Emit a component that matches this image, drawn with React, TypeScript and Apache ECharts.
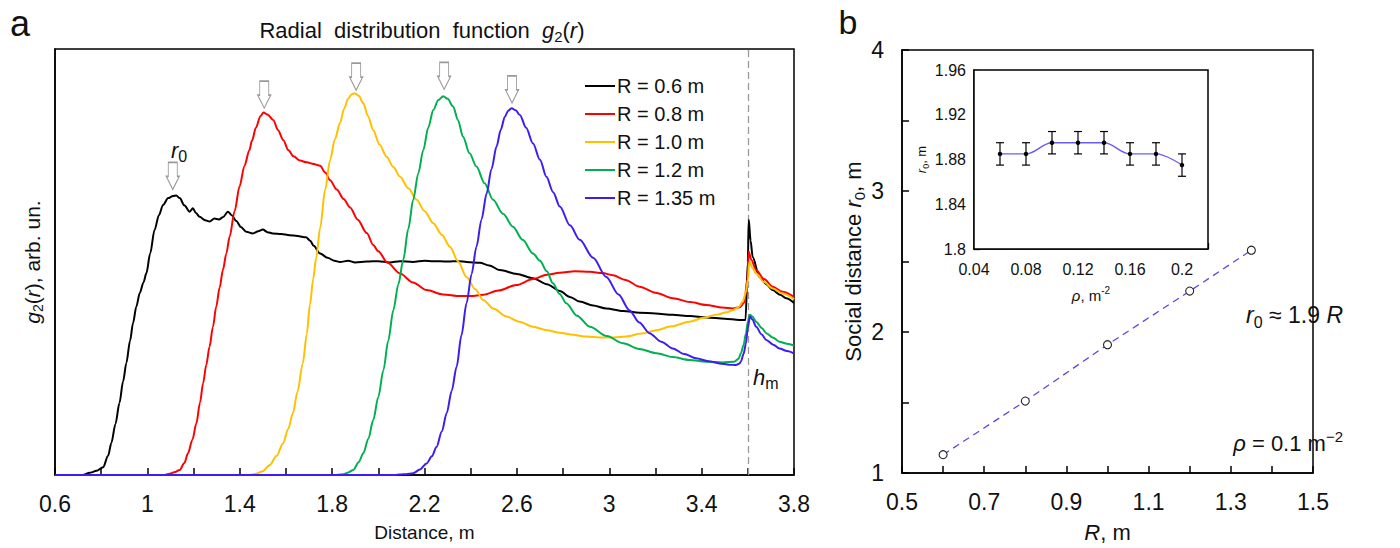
import React, { useEffect, useRef } from 'react';
import * as echarts from 'echarts';

const FONT = '"Liberation Sans", Arial, Helvetica, sans-serif';
const NARROW = '"Liberation Sans Narrow", "Arial Narrow", "Liberation Sans", Arial, sans-serif';

// ---- Panel a: radial distribution function g2(r) ----
const seriesNames = ['R = 0.6 m', 'R = 0.8 m', 'R = 1.0 m', 'R = 1.2 m', 'R = 1.35 m'];
const seriesColors = ['#000000', '#ff0000', '#ffc000', '#00b050', '#3d1df0'];

const g2R06: number[][] = [
  [0.6, 0], [0.72, 0], [0.75, 0.5], [0.78, 1.0], [0.808, 1.8], [0.83, 4.5], [0.844, 7.5], [0.862, 12], [0.879, 16.9],
  [0.895, 22], [0.909, 26.3], [0.925, 31.5], [0.938, 35.7], [0.952, 39.5], [0.967, 42.7], [0.983, 45.2], [0.996, 47.4],
  [1.012, 52], [1.031, 57.5], [1.05, 61], [1.068, 63.4], [1.09, 65], [1.111, 65.5], [1.125, 65.6], [1.14, 65],
  [1.16, 63.3], [1.183, 61.8], [1.197, 62.6], [1.21, 61.5], [1.226, 60.6], [1.25, 59.8], [1.27, 59.5], [1.29, 60.2],
  [1.31, 60], [1.327, 60.5], [1.349, 61.8], [1.365, 61], [1.385, 59.6], [1.405, 58.2], [1.428, 57.1], [1.457, 56.7],
  [1.48, 57.2], [1.5, 57.6], [1.52, 57], [1.543, 56.7], [1.58, 56.6], [1.615, 56.3], [1.65, 56.1], [1.687, 55.8],
  [1.705, 55], [1.72, 53.8], [1.748, 52], [1.78, 51], [1.81, 50.3], [1.834, 50], [1.87, 50.3], [1.9, 49.9],
  [1.95, 50.1], [2.0, 50.2], [2.05, 49.9], [2.094, 50.2], [2.15, 50], [2.2, 50.3], [2.237, 50.2], [2.3, 50.1],
  [2.35, 50.2], [2.382, 50], [2.44, 49.8], [2.48, 49.2], [2.526, 48.1], [2.6, 47.2], [2.669, 46.2], [2.73, 44.8],
  [2.786, 43.2], [2.83, 41.8], [2.872, 40.7], [2.93, 39.8], [2.987, 39.1], [3.06, 38.5], [3.131, 38.1], [3.2, 37.9],
  [3.274, 37.6], [3.35, 37.3], [3.42, 37], [3.5, 36.7], [3.563, 36.4], [3.59, 36.4], [3.6, 50], [3.604, 59.9],
  [3.612, 55], [3.621, 51.2], [3.65, 46.5], [3.68, 44.8], [3.708, 43.4], [3.74, 42.3], [3.766, 41.5], [3.8, 40.4],
];

const g2R08: number[][] = [
  [0.6, 0], [1.07, 0], [1.096, 0.3], [1.12, 0.7], [1.14, 1.2], [1.16, 2.8], [1.176, 5.1], [1.195, 8.3], [1.212, 12.1],
  [1.228, 17], [1.241, 21.5], [1.255, 25.8], [1.269, 30.1], [1.284, 34.8], [1.298, 39.5], [1.313, 44], [1.327, 48.1],
  [1.342, 52], [1.356, 55.9], [1.378, 62], [1.399, 67.7], [1.42, 72.5], [1.442, 76.3], [1.453, 78.5], [1.47, 81.5],
  [1.49, 84.3], [1.503, 85.1], [1.52, 84.6], [1.546, 83.3], [1.565, 81], [1.589, 78.6], [1.61, 76.3], [1.633, 74.8],
  [1.661, 73.8], [1.69, 73.4], [1.72, 73], [1.748, 72.6], [1.77, 71], [1.791, 69.2], [1.82, 67], [1.85, 64.8],
  [1.878, 62.8], [1.91, 60], [1.95, 56.8], [1.978, 54], [2.0, 52.5], [2.04, 49.8], [2.094, 47.3], [2.15, 45.2],
  [2.209, 43.4], [2.28, 42.4], [2.353, 42], [2.4, 42], [2.454, 42.3], [2.52, 43.3], [2.598, 44.6], [2.67, 46],
  [2.73, 47], [2.786, 47.5], [2.85, 47.8], [2.916, 47.7], [2.97, 47.4], [3.016, 46.9], [3.07, 45.8], [3.131, 44.2],
  [3.2, 42.8], [3.275, 41.5], [3.35, 40.6], [3.42, 39.9], [3.49, 39.3], [3.535, 39.1], [3.565, 39.4], [3.585, 40.5],
  [3.598, 46], [3.604, 52.4], [3.615, 50.5], [3.636, 48.1], [3.67, 46], [3.708, 44.2], [3.75, 43], [3.8, 41.8],
];

const g2R10: number[][] = [
  [0.6, 0], [1.44, 0], [1.471, 0.3], [1.5, 0.9], [1.529, 2.3], [1.56, 4.5], [1.587, 7.4], [1.61, 10.8], [1.63, 14.5],
  [1.65, 19.5], [1.673, 26.2], [1.69, 33], [1.704, 40], [1.718, 46], [1.731, 51], [1.748, 58], [1.77, 67],
  [1.791, 73.9], [1.812, 78.8], [1.834, 82.6], [1.852, 86], [1.87, 88.4], [1.885, 89.4], [1.899, 89.6], [1.915, 89],
  [1.935, 87.3], [1.955, 84.3], [1.978, 81], [2.005, 77.6], [2.036, 74.7], [2.065, 72.3], [2.094, 70], [2.13, 67.3],
  [2.166, 64.6], [2.2, 62], [2.238, 59.1], [2.275, 56.4], [2.31, 53.6], [2.345, 50.2], [2.382, 46.5], [2.42, 43.6],
  [2.454, 41.1], [2.5, 39], [2.555, 37.2], [2.61, 36], [2.67, 34.8], [2.73, 34], [2.786, 33.4], [2.843, 32.9],
  [2.9, 32.5], [2.958, 32.3], [3.02, 32.3], [3.074, 32.5], [3.14, 33.2], [3.204, 34], [3.27, 34.9], [3.347, 36],
  [3.41, 36.9], [3.463, 37.6], [3.51, 38.2], [3.535, 38.7], [3.56, 39.4], [3.578, 40.7], [3.592, 43], [3.6, 45.8],
  [3.607, 50.1], [3.62, 48.6], [3.636, 47.3], [3.67, 45.3], [3.708, 43.8], [3.75, 42.6], [3.8, 41.3],
];

const g2R12: number[][] = [
  [0.6, 0], [1.82, 0], [1.849, 0.2], [1.87, 0.6], [1.892, 1.2], [1.915, 3], [1.935, 5.1], [1.957, 8.5], [1.978, 12.9],
  [2.0, 18.3], [2.022, 24.6], [2.043, 31.5], [2.065, 38.7], [2.087, 44.8], [2.108, 50.5], [2.13, 57.8], [2.151, 64.6],
  [2.173, 70.8], [2.195, 76.3], [2.216, 81.5], [2.238, 85.7], [2.26, 88], [2.281, 88.9], [2.3, 88.3], [2.324, 86.5],
  [2.345, 83.3], [2.367, 79.4], [2.395, 75.5], [2.425, 72.4], [2.46, 68.5], [2.497, 64.6], [2.54, 61.3], [2.583, 58.3],
  [2.625, 55.2], [2.67, 52], [2.7, 50.3], [2.73, 47.8], [2.756, 45], [2.785, 42.5], [2.814, 40.3], [2.86, 37.4],
  [2.916, 34.8], [2.99, 32.6], [3.06, 30.9], [3.13, 29.6], [3.204, 28.6], [3.275, 27.7], [3.347, 27], [3.42, 26.6],
  [3.491, 26.4], [3.541, 26.6], [3.56, 27.3], [3.57, 28.6], [3.582, 30.6], [3.592, 33.3], [3.6, 36], [3.609, 37.6],
  [3.62, 37.2], [3.636, 36], [3.66, 34.5], [3.68, 33.3], [3.71, 32.2], [3.737, 31.3], [3.77, 30.8], [3.8, 30.4],
];

const g2R135: number[][] = [
  [0.6, 0], [2.07, 0], [2.094, 0.1], [2.12, 0.2], [2.151, 0.4], [2.18, 1.3], [2.209, 2.7], [2.232, 4.4], [2.252, 6.6],
  [2.275, 10.2], [2.296, 14.5], [2.318, 19.8], [2.339, 25.4], [2.36, 32.8], [2.382, 40.3], [2.404, 47.2], [2.425, 53.6],
  [2.447, 60], [2.469, 66.1], [2.49, 71.8], [2.512, 77.1], [2.53, 81], [2.548, 84.1], [2.562, 85.5], [2.577, 86.1],
  [2.595, 85.6], [2.613, 84.5], [2.64, 81.5], [2.67, 77.8], [2.7, 74], [2.728, 70], [2.757, 66.4], [2.786, 63],
  [2.83, 58.6], [2.872, 55.2], [2.93, 51], [2.987, 46.5], [3.04, 42.4], [3.087, 38.7], [3.13, 35.8], [3.174, 33.3],
  [3.225, 31.3], [3.275, 29.7], [3.325, 28.4], [3.376, 27.4], [3.43, 26.7], [3.477, 26.2], [3.52, 25.9], [3.549, 25.8],
  [3.562, 26.1], [3.57, 26.6], [3.582, 28.5], [3.592, 30.9], [3.6, 34.5], [3.609, 37.2], [3.62, 36.5], [3.636, 34.8],
  [3.66, 33], [3.68, 31.7], [3.71, 30.6], [3.737, 29.7], [3.77, 29.1], [3.8, 28.5],
];

const g2Curves = [g2R06, g2R08, g2R10, g2R12, g2R135];
const peakArrowX = [1.11, 1.506, 1.904, 2.285, 2.579];
const peakArrowY = [70.2, 89.3, 93.5, 93.7, 90.5];
const hmDistance = 3.6;

// ---- Panel b: social distance vs R ----
const radiusR = [0.6, 0.8, 1.0, 1.2, 1.35];
const socialDistance = [1.13, 1.51, 1.91, 2.29, 2.58];

// ---- Inset: r0 vs density ----
const densityRho = [0.06, 0.08, 0.1, 0.12, 0.14, 0.16, 0.18, 0.2];
const insetR0 = [1.885, 1.885, 1.895, 1.895, 1.895, 1.885, 1.885, 1.875];
const insetErr = [0.01, 0.01, 0.01, 0.01, 0.01, 0.01, 0.01, 0.01];

const ARROW = 'path://M2,0 L11,0 L11,14 L13,14 L6.5,27 L0,14 L2,14 Z';

export default function App() {
  const ref = useRef<HTMLDivElement>(null);

  useEffect(() => {
    if (!ref.current) return;
    const chart = echarts.init(ref.current, undefined, { renderer: 'svg' });
    const txt = '#111';

    const curveSeries: any[] = g2Curves.map((d, i) => ({
      name: seriesNames[i],
      type: 'line',
      xAxisIndex: 0,
      yAxisIndex: 0,
      data: d,
      symbol: 'none',
      smooth: 0.3,
      smoothMonotone: 'x',
      lineStyle: { color: seriesColors[i], width: 2 },
      itemStyle: { color: seriesColors[i] },
      z: 3 + i,
      markLine: i === 0 ? {
        silent: true,
        symbol: 'none',
        label: { show: false },
        lineStyle: { color: '#9a9a9a', type: [7, 4], width: 1.3 },
        data: [{ xAxis: hmDistance }],
        z: 1,
      } : undefined,
    }));

    const option: any = {
      animation: false,
      backgroundColor: '#fff',
      textStyle: { fontFamily: FONT },
      grid: [
        { left: 55, top: 49, width: 739, height: 426, show: true, borderColor: '#000', borderWidth: 1.5, backgroundColor: 'transparent' },
        { left: 902, top: 50, width: 411, height: 424, show: true, borderColor: '#000', borderWidth: 1.5, backgroundColor: 'transparent' },
        { left: 974, top: 70, width: 234, height: 179, show: true, borderColor: '#000', borderWidth: 1.5, backgroundColor: '#fff', z: 5 },
      ],
      xAxis: [
        {
          gridIndex: 0, type: 'value', min: 0.6, max: 3.8, interval: 0.2,
          name: 'Distance, m', nameLocation: 'middle', nameGap: 48,
          nameTextStyle: { fontSize: 19, color: txt, fontFamily: FONT },
          axisLine: { lineStyle: { color: '#000', width: 1.5 } },
          axisTick: { inside: true, length: 7, lineStyle: { color: '#000', width: 1.5 } },
          splitLine: { show: false },
          axisLabel: {
            fontSize: 23, color: txt, margin: 17, fontFamily: FONT,
            formatter: (v: number) => (Math.round((v - 0.6) / 0.2) % 2 === 0 ? String(+v.toFixed(1)) : ''),
          },
        },
        {
          gridIndex: 1, type: 'value', min: 0.5, max: 1.5, interval: 0.1,
          name: '{i|R}, m', nameLocation: 'middle', nameGap: 48,
          nameTextStyle: { fontSize: 22, color: txt, fontFamily: FONT, rich: { i: { fontStyle: 'italic', fontSize: 22, fontFamily: FONT, color: txt } } },
          axisLine: { lineStyle: { color: '#000', width: 1.5 } },
          axisTick: { inside: true, length: 7, lineStyle: { color: '#000', width: 1.5 } },
          splitLine: { show: false },
          axisLabel: {
            fontSize: 23, color: txt, margin: 17, fontFamily: FONT,
            formatter: (v: number) => (Math.round((v - 0.5) / 0.1) % 2 === 0 ? (+v.toFixed(1)).toFixed(1) : ''),
          },
        },
        {
          gridIndex: 2, type: 'value', min: 0.04, max: 0.22, interval: 0.02,
          name: '{i|ρ}, m{sup|-2}', nameLocation: 'middle', nameGap: 36,
          nameTextStyle: {
            fontSize: 15, color: txt, fontFamily: NARROW,
            rich: {
              i: { fontStyle: 'italic', fontSize: 15, fontFamily: NARROW, color: txt, lineHeight: 20 },
              sup: { fontSize: 10, fontFamily: NARROW, color: txt, verticalAlign: 'top', lineHeight: 12 },
            },
          },
          axisLine: { lineStyle: { color: '#000', width: 1.5 } },
          axisTick: { inside: true, length: 6, lineStyle: { color: '#000', width: 1.3 } },
          splitLine: { show: false },
          axisLabel: {
            fontSize: 16, color: txt, margin: 12, fontFamily: NARROW,
            formatter: (v: number) => {
              const k = Math.round(v * 100);
              return k % 4 === 0 && k <= 20 ? String(k / 100) : '';
            },
          },
        },
      ],
      yAxis: [
        {
          gridIndex: 0, type: 'value', min: 0, max: 100,
          name: '{i|g}{s|2}({i|r}), arb. un.', nameLocation: 'middle', nameGap: 10,
          nameTextStyle: {
            fontSize: 21, color: txt, fontFamily: FONT, lineHeight: 26,
            rich: {
              i: { fontStyle: 'italic', fontSize: 21, fontFamily: FONT, color: txt, lineHeight: 26 },
              s: { fontSize: 14, fontFamily: FONT, color: txt, verticalAlign: 'bottom', lineHeight: 15 },
            },
          },
          axisLine: { lineStyle: { color: '#000', width: 1.5 } },
          axisTick: { show: false },
          axisLabel: { show: false },
          splitLine: { show: false },
        },
        {
          gridIndex: 1, type: 'value', min: 1, max: 4, interval: 0.5,
          name: 'Social distance {i|r}{s|0}, m', nameLocation: 'middle', nameGap: 33,
          nameTextStyle: {
            fontSize: 22, color: txt, fontFamily: FONT, lineHeight: 28,
            rich: {
              i: { fontStyle: 'italic', fontSize: 22, fontFamily: FONT, color: txt, lineHeight: 28 },
              s: { fontSize: 15, fontFamily: FONT, color: txt, verticalAlign: 'bottom', lineHeight: 16 },
            },
          },
          axisLine: { lineStyle: { color: '#000', width: 1.5 } },
          axisTick: { inside: true, length: 7, lineStyle: { color: '#000', width: 1.5 } },
          splitLine: { show: false },
          axisLabel: {
            fontSize: 23, color: txt, margin: 18, fontFamily: FONT,
            formatter: (v: number) => (Math.abs(v - Math.round(v)) < 1e-6 ? String(Math.round(v)) : ''),
          },
        },
        {
          gridIndex: 2, type: 'value', min: 1.8, max: 1.96, interval: 0.02,
          name: '{i|r}{s|0}, m', nameLocation: 'middle', nameGap: 43,
          nameTextStyle: {
            fontSize: 13, color: txt, fontFamily: NARROW, lineHeight: 18,
            rich: {
              i: { fontStyle: 'italic', fontSize: 13, fontFamily: NARROW, color: txt, lineHeight: 18 },
              s: { fontSize: 9, fontFamily: NARROW, color: txt, verticalAlign: 'bottom', lineHeight: 10 },
            },
          },
          axisLine: { lineStyle: { color: '#000', width: 1.5 } },
          axisTick: { inside: true, length: 6, lineStyle: { color: '#000', width: 1.3 } },
          splitLine: { show: false },
          axisLabel: {
            fontSize: 16, color: txt, margin: 8, fontFamily: NARROW,
            formatter: (v: number) => {
              const k = Math.round(v * 100);
              return k % 4 === 0 ? String(k / 100) : '';
            },
          },
        },
      ],
      legend: {
        data: seriesNames.map((n) => ({ name: n, icon: 'rect' })),
        orient: 'vertical',
        left: 580,
        top: 71,
        itemWidth: 30,
        itemHeight: 2,
        itemGap: 8,
        selectedMode: false,
        textStyle: { fontSize: 20, color: txt, fontFamily: FONT, lineHeight: 20, padding: [0, 0, 0, -3] },
      },
      series: [
        ...curveSeries,
        {
          type: 'scatter',
          xAxisIndex: 0,
          yAxisIndex: 0,
          data: peakArrowX.map((x, i) => [x, peakArrowY[i]]),
          symbol: ARROW,
          symbolSize: [13, 27],
          itemStyle: { color: '#fff', borderColor: '#7f7f7f', borderWidth: 1.2 },
          silent: true,
          z: 10,
        },
        {
          type: 'line',
          xAxisIndex: 1,
          yAxisIndex: 1,
          data: radiusR.map((x, i) => [x, socialDistance[i]]),
          symbol: 'circle',
          symbolSize: 8,
          showSymbol: true,
          lineStyle: { color: '#5a48ea', type: [7, 5], width: 1.3 },
          itemStyle: { color: '#fff', borderColor: '#222', borderWidth: 1.1 },
          z: 3,
        },
        {
          type: 'line',
          xAxisIndex: 2,
          yAxisIndex: 2,
          data: densityRho.map((x, i) => [x, insetR0[i]]),
          smooth: 0.35,
          symbol: 'circle',
          symbolSize: 4.5,
          lineStyle: { color: '#6a5cf2', width: 1.4 },
          itemStyle: { color: '#000' },
          z: 8,
        },
        {
          type: 'custom',
          xAxisIndex: 2,
          yAxisIndex: 2,
          data: densityRho.map((x, i) => [x, insetR0[i] - insetErr[i], insetR0[i] + insetErr[i]]),
          encode: { x: 0, y: [1, 2] },
          z: 9,
          renderItem: (params: any, api: any) => {
            const x = api.value(0);
            const lo = api.coord([x, api.value(1)]);
            const hi = api.coord([x, api.value(2)]);
            const w = 4;
            const st = { stroke: '#000', lineWidth: 1.2 };
            return {
              type: 'group',
              children: [
                { type: 'line', shape: { x1: lo[0], y1: lo[1], x2: hi[0], y2: hi[1] }, style: st },
                { type: 'line', shape: { x1: lo[0] - w, y1: lo[1], x2: lo[0] + w, y2: lo[1] }, style: st },
                { type: 'line', shape: { x1: hi[0] - w, y1: hi[1], x2: hi[0] + w, y2: hi[1] }, style: st },
              ],
            };
          },
        },
      ],
      graphic: [
        { type: 'text', x: 20, y: 23, style: { text: 'a', fontSize: 36, fontFamily: FONT, fill: txt, align: 'center', verticalAlign: 'middle' } },
        { type: 'text', x: 848, y: 22, style: { text: 'b', fontSize: 34, fontFamily: FONT, fill: txt, align: 'center', verticalAlign: 'middle' } },
        {
          type: 'text', x: 422, y: 30,
          style: {
            text: 'Radial  distribution  function  {i|g}{s|2}({i|r})',
            fontSize: 22, fontFamily: FONT, fill: txt, lineHeight: 28, align: 'center', verticalAlign: 'middle',
            rich: {
              i: { fontStyle: 'italic', fontSize: 22, fontFamily: FONT, fill: txt, lineHeight: 28 },
              s: { fontSize: 15, fontFamily: FONT, fill: txt, verticalAlign: 'bottom', lineHeight: 15 },
            },
          },
        },
        {
          type: 'text', x: 179, y: 150,
          style: {
            text: '{i|r}{s|0}', fontSize: 22, fontFamily: FONT, fill: txt, align: 'center', verticalAlign: 'middle',
            rich: {
              i: { fontStyle: 'italic', fontSize: 22, fontFamily: FONT, fill: txt, lineHeight: 28 },
              s: { fontSize: 16, fontFamily: FONT, fill: txt, verticalAlign: 'bottom', lineHeight: 17 },
            },
          },
        },
        {
          type: 'text', x: 753, y: 377,
          style: {
            text: '{i|h}{s|m}', fontSize: 22, fontFamily: FONT, fill: txt, align: 'left', verticalAlign: 'middle',
            rich: {
              i: { fontStyle: 'italic', fontSize: 22, fontFamily: FONT, fill: txt, lineHeight: 28 },
              s: { fontSize: 16, fontFamily: FONT, fill: txt, verticalAlign: 'bottom', lineHeight: 17 },
            },
          },
        },
        {
          type: 'text', x: 1343, y: 315,
          style: {
            text: '{i|r}{s|0} ≈ 1.9 {i|R}', fontSize: 23, fontFamily: FONT, fill: txt, align: 'right', verticalAlign: 'middle', lineHeight: 30,
            rich: {
              i: { fontStyle: 'italic', fontSize: 23, fontFamily: FONT, fill: txt, lineHeight: 30 },
              s: { fontSize: 16, fontFamily: FONT, fill: txt, verticalAlign: 'bottom', lineHeight: 17 },
            },
          },
        },
        {
          type: 'text', x: 1343, y: 443,
          style: {
            text: '{i|ρ} = 0.1 m{sup|−2}', fontSize: 22, fontFamily: FONT, fill: txt, align: 'right', verticalAlign: 'middle', lineHeight: 28,
            rich: {
              i: { fontStyle: 'italic', fontSize: 22, fontFamily: FONT, fill: txt, lineHeight: 28 },
              sup: { fontSize: 15, fontFamily: FONT, fill: txt, verticalAlign: 'top', lineHeight: 16 },
            },
          },
        },
      ],
    };

    chart.setOption(option);
    return () => chart.dispose();
  }, []);

  return <div ref={ref} style={{ position: 'fixed', left: 0, top: 0, width: 1400, height: 548, background: '#fff' }} />;
}
